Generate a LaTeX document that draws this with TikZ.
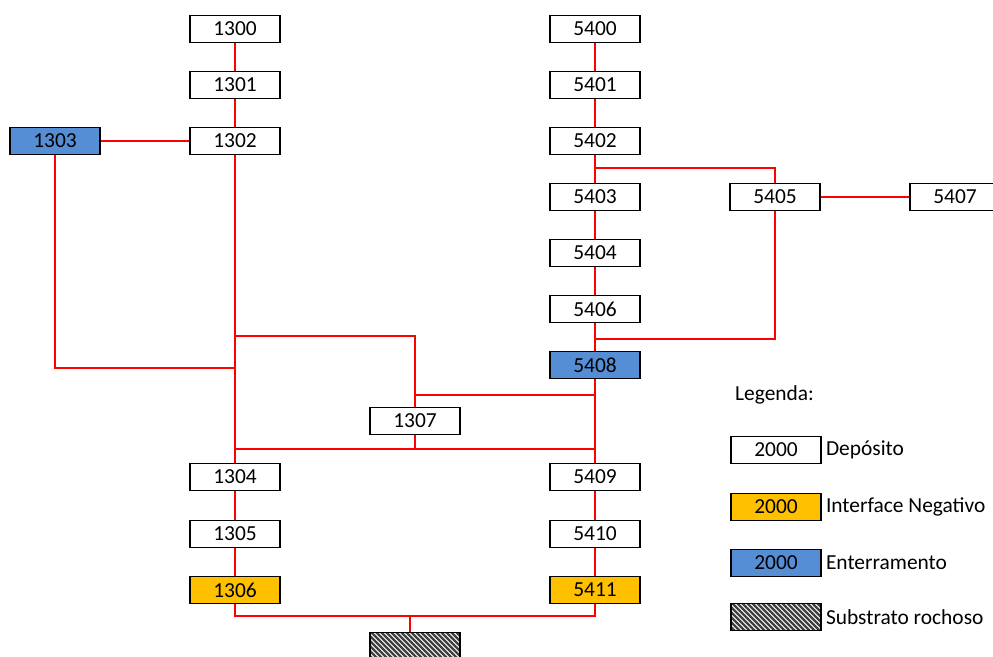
\documentclass[tikz,border=0pt]{standalone}
\usepackage{fontspec}
\setmainfont{Carlito}
\usetikzlibrary{positioning}

\definecolor{burialblue}{RGB}{85,142,213}
\definecolor{cutorange}{RGB}{255,192,0}
\definecolor{linkred}{RGB}{255,0,0}

\begin{document}
\begin{tikzpicture}[
    x=1bp, y=-1bp,
    unit/.style={draw=black, line width=1.6pt, fill=white, minimum width=90bp,
        minimum height=27bp, inner sep=0pt, font=\fontsize{21.5}{24}\selectfont},
    cut/.style={unit, fill=cutorange},
    burial/.style={unit, fill=burialblue},
    rock/.style={unit, path picture={
        \foreach \k in {-80,-75,...,80}
            \draw[line width=2.2pt, black!75] (path picture bounding box.center)
                ++({\k-30},-30) -- ++(60,60);
    }},
    link/.style={color=linkred, line width=1.5pt},
    legtext/.style={inner sep=0pt, anchor=west, font=\fontsize{21.5}{24}\selectfont}
]

\useasboundingbox (0,0) rectangle (993,657);

% --- Left sequence (13xx) ---
\node[unit] (u1300) at (235,29) {1300};
\node[unit] (u1301) at (235,85) {1301};
\node[unit] (u1302) at (235,141) {1302};
\node[burial] (u1303) at (55,141) {1303};
\node[unit] (u1307) at (415,421) {1307};
\node[unit] (u1304) at (235,477) {1304};
\node[unit] (u1305) at (235,534) {1305};
\node[cut] (u1306) at (235,590) {1306};

% --- Right sequence (54xx) ---
\node[unit] (u5400) at (595,29) {5400};
\node[unit] (u5401) at (595,85) {5401};
\node[unit] (u5402) at (595,141) {5402};
\node[unit] (u5403) at (595,197) {5403};
\node[unit] (u5405) at (775,197) {5405};
\node[unit] (u5407) at (955,197) {5407};
\node[unit] (u5404) at (595,253) {5404};
\node[unit] (u5406) at (595,309) {5406};
\node[burial] (u5408) at (595,365) {5408};
\node[unit] (u5409) at (595,477) {5409};
\node[unit] (u5410) at (595,534) {5410};
\node[cut] (u5411) at (595,590) {5411};

% --- Bedrock (cut by the page edge) ---
\node[rock] (bedrock) at (415,646) {};

% --- Junction points ---
\coordinate (j1303) at (235,368);
\coordinate (j1307top) at (235,336);
\coordinate (j1307mid) at (415,395);
\coordinate (jcross) at (235,449);
\coordinate (j5405top) at (595,168);
\coordinate (j5405bot) at (595,339);
\coordinate (jbase) at (410,616);

% --- Connectors, left ---
\draw[link] (u1300) -- (u1301);
\draw[link] (u1301) -- (u1302);
\draw[link] (u1303) -- (u1302);
\draw[link] (u1302) -- (u1304);
\draw[link] (u1303) |- (j1303);
\draw[link] (j1307top) -| (u1307);
\draw[link] (j1307mid) -- (j1307mid -| u5408);
\draw[link] (u1307) -- (u1307 |- jcross);
\draw[link] (jcross) -- (jcross -| u5409);
\draw[link] (u1304) -- (u1305);
\draw[link] (u1305) -- (u1306);

% --- Connectors, right ---
\draw[link] (u5400) -- (u5401);
\draw[link] (u5401) -- (u5402);
\draw[link] (u5402) -- (u5403);
\draw[link] (j5405top) -| (u5405);
\draw[link] (u5405) -- (u5407);
\draw[link] (u5403) -- (u5404);
\draw[link] (u5404) -- (u5406);
\draw[link] (u5406) -- (u5408);
\draw[link] (u5405) |- (j5405bot);
\draw[link] (u5408) -- (u5409);
\draw[link] (u5409) -- (u5410);
\draw[link] (u5410) -- (u5411);

% --- Base ---
\draw[link] (u1306) |- (jbase) -| (u5411);
\draw[link] (jbase) -- (jbase |- bedrock.north);

% --- Legend ---
\node[legtext] (legtitle) at (735,395) {Legenda:};
\node[unit] (leg1) at (776,450) {2000};
\node[cut] (leg2) at (776,507) {2000};
\node[burial] (leg3) at (776,563) {2000};
\node[rock] (leg4) at (776,617) {};
\node[legtext, right=4bp of leg1] {Depósito};
\node[legtext, right=4bp of leg2] {Interface Negativo};
\node[legtext, right=4bp of leg3] {Enterramento};
\node[legtext, right=4bp of leg4] {Substrato rochoso};

\end{tikzpicture}
\end{document}
